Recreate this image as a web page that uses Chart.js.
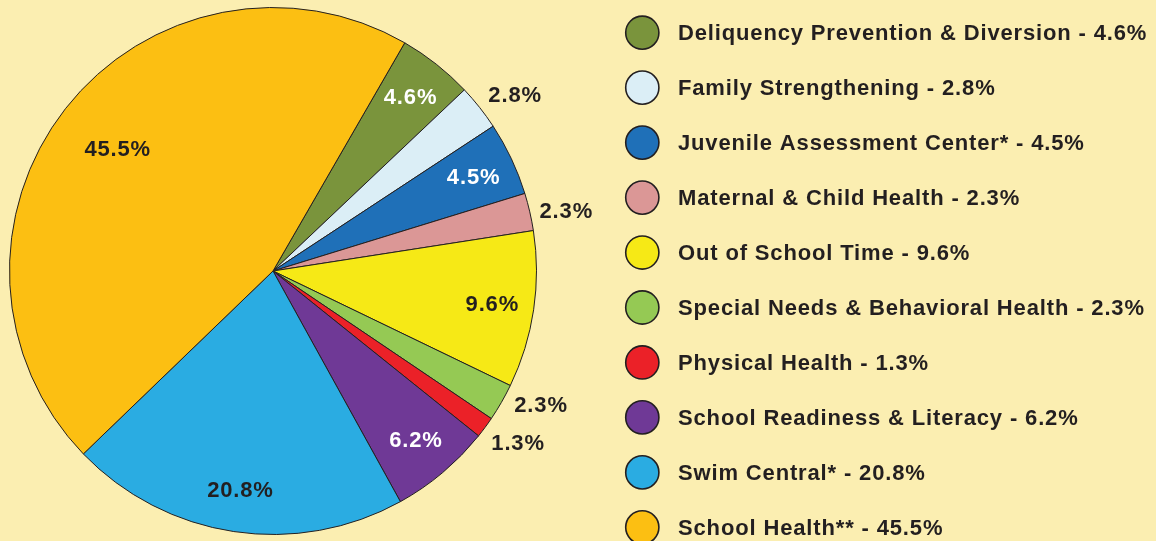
<!DOCTYPE html>
<html>
<head>
<meta charset="utf-8">
<script src="https://cdn.jsdelivr.net/npm/chart.js@4.4.1/dist/chart.umd.min.js"></script>
<style>
  html, body { margin: 0; padding: 0; background: #fbeeb1; }
  #wrap { width: 1156px; height: 541px; position: relative; }
</style>
</head>
<body>
<div id="wrap"><canvas id="c"></canvas></div>
<script>
const categories = [
  'Deliquency Prevention & Diversion',
  'Family Strengthening',
  'Juvenile Assessment Center*',
  'Maternal & Child Health',
  'Out of School Time',
  'Special Needs & Behavioral Health',
  'Physical Health',
  'School Readiness & Literacy',
  'Swim Central*',
  'School Health**'
];
const shares = [4.6, 2.8, 4.5, 2.3, 9.6, 2.3, 1.3, 6.2, 20.8, 45.5];
const sliceColors = ['#7a943c', '#dbeef6', '#1f70b8', '#db9796', '#f6e916', '#95c954', '#eb2128', '#6f3996', '#2aace2', '#fcbf12'];
const labelColors = ['#ffffff', '#231f20', '#ffffff', '#231f20', '#231f20', '#231f20', '#231f20', '#ffffff', '#231f20', '#231f20'];

const INK = '#231f20';
const FONT = 'bold 22px "Liberation Sans", Arial, sans-serif';
const SPACING = '0.85px';

const sliceLabels = {
  id: 'sliceLabels',
  afterDatasetsDraw(chart, args, opts) {
    const ctx = chart.ctx;
    const meta = chart.getDatasetMeta(0);
    ctx.save();
    ctx.font = FONT;
    ctx.letterSpacing = SPACING;
    ctx.textAlign = 'center';
    ctx.textBaseline = 'middle';
    meta.data.forEach((arc, i) => {
      const p = arc.getProps(['x', 'y', 'startAngle', 'endAngle', 'outerRadius'], true);
      const v = shares[i];
      const nudge = (opts.nudgeDeg[i] || 0) * Math.PI / 180;
      const mid = (p.startAngle + p.endAngle) / 2 + nudge;
      let f;
      if (v < 3) f = 1.135;
      else if (v > 40) f = 0.75;
      else f = 0.84;
      const r = p.outerRadius * f;
      ctx.fillStyle = labelColors[i];
      ctx.fillText(v.toFixed(1) + '%', p.x + Math.cos(mid) * r + 0.4, p.y + Math.sin(mid) * r + 1);
    });
    ctx.restore();
  }
};

const sideLegend = {
  id: 'sideLegend',
  afterDraw(chart) {
    const ctx = chart.ctx;
    ctx.save();
    ctx.font = FONT;
    ctx.letterSpacing = SPACING;
    ctx.textAlign = 'left';
    ctx.textBaseline = 'alphabetic';
    categories.forEach((name, i) => {
      const y = 32.7 + i * 54.96;
      ctx.beginPath();
      ctx.arc(642.3, y, 16.6, 0, Math.PI * 2);
      ctx.fillStyle = sliceColors[i];
      ctx.fill();
      ctx.lineWidth = 1.6;
      ctx.strokeStyle = INK;
      ctx.stroke();
      ctx.fillStyle = INK;
      ctx.fillText(name + ' - ' + shares[i].toFixed(1) + '%', 678, y + 7.5);
    });
    ctx.restore();
  }
};

new Chart(document.getElementById('c'), {
  type: 'pie',
  data: {
    labels: categories,
    datasets: [{
      data: shares,
      backgroundColor: sliceColors,
      borderColor: INK,
      borderWidth: 1
    }]
  },
  options: {
    responsive: true,
    maintainAspectRatio: false,
    animation: false,
    rotation: 30,
    layout: { padding: { left: 9, right: 619, top: 7, bottom: 6 } },
    plugins: {
      legend: { display: false },
      tooltip: { enabled: false },
      sliceLabels: { nudgeDeg: [0, 2.3, 0, 1.3, 0, -3.4, -1.3, 0, 0, 0] }
    }
  },
  plugins: [sliceLabels, sideLegend]
});
</script>
</body>
</html>
